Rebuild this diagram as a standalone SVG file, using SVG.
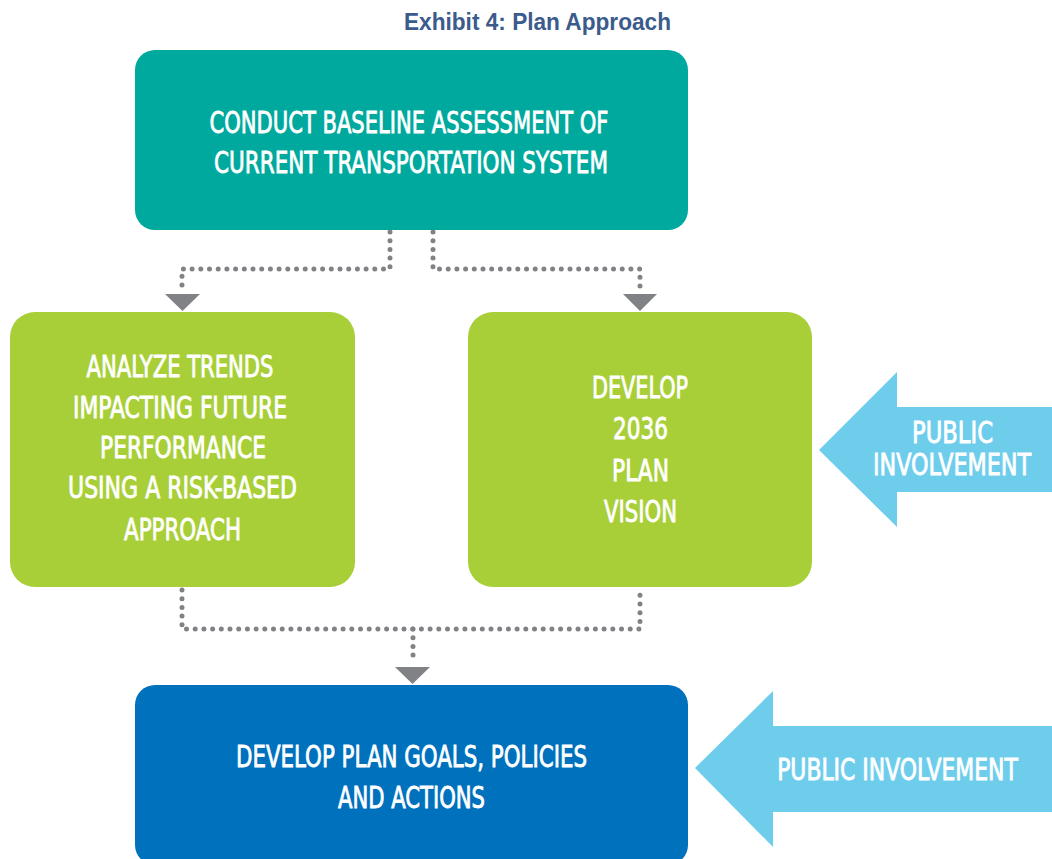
<svg xmlns="http://www.w3.org/2000/svg" width="1052" height="859" viewBox="0 0 1052 859">
<style>
.t{font-family:"Liberation Sans Narrow","DejaVu Sans Condensed","Liberation Sans",sans-serif;font-size:30px;font-weight:normal;fill:#ffffff;stroke:#ffffff;stroke-width:0.8px;text-anchor:middle;}
.dot{fill:none;stroke:#808285;stroke-width:5;stroke-linecap:round;stroke-dasharray:0 8.7;}
.head{fill:#808285;}
</style>
<rect width="1052" height="859" fill="#ffffff"/>
<text x="537.5" y="30" font-family="'Liberation Sans',Arial,sans-serif" font-size="23" font-weight="bold" fill="#3B5B8C" text-anchor="middle" textLength="267" lengthAdjust="spacingAndGlyphs">Exhibit 4: Plan Approach</text>
<g id="connectors">
<path class="dot" d="M390 232 V269 H182 V290"/>
<path class="dot" d="M433 232 V269 H640 V290"/>
<polygon class="head" points="165,294 200,294 182.5,311"/>
<polygon class="head" points="623,294 657,294 640,311"/>
<path class="dot" d="M182 590 V629 H640 V590"/>
<path class="dot" d="M413 629 V662"/>
<polygon class="head" points="395,667 430,667 412.5,684"/>
</g>
<g id="node-baseline">
<rect x="135" y="50" width="553" height="180" rx="20" fill="#00A99D"/>
<text class="t" x="409" y="133" textLength="399" lengthAdjust="spacingAndGlyphs">CONDUCT BASELINE ASSESSMENT OF</text>
<text class="t" x="411" y="173" textLength="394" lengthAdjust="spacingAndGlyphs">CURRENT TRANSPORTATION SYSTEM</text>
</g>
<g id="node-trends">
<rect x="10" y="312" width="345" height="275" rx="25" fill="#A8CF38"/>
<text class="t" x="180" y="377" textLength="187" lengthAdjust="spacingAndGlyphs">ANALYZE TRENDS</text>
<text class="t" x="180" y="418" textLength="214" lengthAdjust="spacingAndGlyphs">IMPACTING FUTURE</text>
<text class="t" x="183" y="458" textLength="166" lengthAdjust="spacingAndGlyphs">PERFORMANCE</text>
<text class="t" x="182.5" y="498" textLength="229" lengthAdjust="spacingAndGlyphs">USING A RISK-BASED</text>
<text class="t" x="182.5" y="540" textLength="117" lengthAdjust="spacingAndGlyphs">APPROACH</text>
</g>
<g id="node-vision">
<rect x="468" y="312" width="344" height="275" rx="25" fill="#A8CF38"/>
<text class="t" x="640" y="398" textLength="96" lengthAdjust="spacingAndGlyphs">DEVELOP</text>
<text class="t" x="640.5" y="439" textLength="55" lengthAdjust="spacingAndGlyphs">2036</text>
<text class="t" x="640.5" y="481" textLength="57" lengthAdjust="spacingAndGlyphs">PLAN</text>
<text class="t" x="640.5" y="522" textLength="73" lengthAdjust="spacingAndGlyphs">VISION</text>
</g>
<g id="node-goals">
<rect x="135" y="685" width="553" height="180" rx="20" fill="#0071BC"/>
<text class="t" x="411.5" y="767" textLength="351" lengthAdjust="spacingAndGlyphs">DEVELOP PLAN GOALS, POLICIES</text>
<text class="t" x="411.5" y="808" textLength="147" lengthAdjust="spacingAndGlyphs">AND ACTIONS</text>
</g>
<g id="node-public1">
<polygon points="819,450 897,372 897,407 1052,407 1052,492 897,492 897,527" fill="#6FCDEC"/>
<g transform="translate(952.5 443) scale(0.75 1)">
<text class="t" x="0" y="0" textLength="108" lengthAdjust="spacingAndGlyphs">PUBLIC</text>
</g>
<g transform="translate(952 475) scale(0.75 1)">
<text class="t" x="0" y="0" textLength="211" lengthAdjust="spacingAndGlyphs">INVOLVEMENT</text>
</g>
</g>
<g id="node-public2">
<polygon points="695,768 773,691 773,726 1052,726 1052,812 773,812 773,847" fill="#6FCDEC"/>
<g transform="translate(897.5 780) scale(0.75 1)">
<text class="t" x="0" y="0" font-size="31" textLength="321" lengthAdjust="spacingAndGlyphs">PUBLIC INVOLVEMENT</text>
</g>
</g>
</svg>
